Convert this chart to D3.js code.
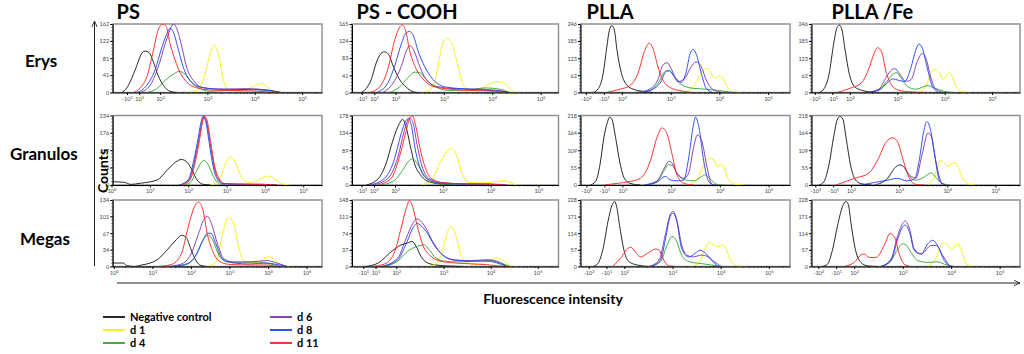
<!DOCTYPE html>
<html>
<head>
<meta charset="utf-8">
<script src="https://cdn.jsdelivr.net/npm/d3@7"></script>
<style>
  body { margin: 0; background: #fff; }
  svg { display: block; }
  text { font-family: Lato, "Open Sans", sans-serif; }
</style>
</head>
<body>
<div id="chart"></div>
<script>
// ---- data ----
const columns = ["PS", "PS - COOH", "PLLA", "PLLA /Fe"];
const rows = ["Erys", "Granulos", "Megas"];
const seriesKeys = ["neg", "d1", "d4", "d6", "d8", "d11"];
const seriesNames = ["Negative control", "d 1", "d 4", "d 6", "d 8", "d 11"];

// x in display decades (10^k at k), y in counts
const erysPS = {
  neg: [[1.19,0],[1.30,11],[1.40,33],[1.51,64],[1.61,92],[1.68,98],[1.77,94],[1.86,72],[1.96,40],[2.07,17],[2.21,3],[2.35,0]],
  d1: [[2.56,0],[2.78,6],[2.95,44],[3.06,92],[3.14,112],[3.23,92],[3.34,29],[3.48,3],[3.76,3],[3.97,14],[4.15,21],[4.29,11],[4.43,2],[4.57,0]],
  d4: [[1.72,0],[1.93,9],[2.11,29],[2.28,43],[2.41,50],[2.53,43],[2.67,24],[2.85,9],[3.06,3],[3.48,6],[3.90,8],[4.26,5],[4.54,0]],
  d6: [[1.58,0],[1.79,17],[1.96,60],[2.11,116],[2.21,148],[2.28,162],[2.35,152],[2.46,108],[2.56,60],[2.70,29],[2.92,11],[3.34,8],[3.83,9],[4.26,6],[4.57,0]],
  d8: [[1.51,0],[1.72,17],[1.89,52],[2.04,107],[2.16,143],[2.21,152],[2.28,143],[2.39,100],[2.49,60],[2.63,28],[2.85,13],[3.20,8],[3.69,7],[4.18,6],[4.54,0]],
  d11: [[1.44,0],[1.58,11],[1.72,37],[1.86,100],[1.96,148],[2.06,162],[2.13,156],[2.21,116],[2.32,76],[2.42,48],[2.56,25],[2.78,11],[3.06,6],[3.48,5],[4.04,3],[4.47,0]]
};
const erysCOOH = {
  neg: [[1.29,0],[1.39,9],[1.50,32],[1.60,71],[1.70,94],[1.77,98],[1.86,91],[1.94,67],[2.08,32],[2.22,13],[2.36,2],[2.45,0]],
  d1: [[2.57,0],[2.77,13],[2.88,63],[2.97,117],[3.05,131],[3.15,121],[3.26,79],[3.39,21],[3.53,5],[3.74,8],[3.94,21],[4.12,26],[4.29,19],[4.43,2],[4.50,0]],
  d4: [[1.88,0],[2.08,13],[2.26,36],[2.39,49],[2.50,48],[2.63,32],[2.84,13],[3.12,5],[3.53,7],[3.88,11],[4.15,8],[4.36,0]],
  d6: [[1.74,0],[1.94,21],[2.12,63],[2.23,102],[2.30,113],[2.39,98],[2.50,63],[2.63,32],[2.84,15],[3.26,9],[3.74,8],[4.22,3],[4.30,0]],
  d8: [[1.60,0],[1.81,17],[1.98,63],[2.12,117],[2.22,144],[2.29,147],[2.37,137],[2.46,102],[2.60,63],[2.77,32],[3.05,13],[3.53,8],[3.94,5],[4.29,2],[4.35,0]],
  d11: [[1.46,0],[1.67,13],[1.84,56],[1.98,125],[2.08,156],[2.14,163],[2.21,148],[2.29,102],[2.43,56],[2.57,32],[2.77,15],[3.12,8],[3.53,5],[4.08,3],[4.20,0]]
};
const erysPLLA = {
  neg: [[1.41,0],[1.52,15],[1.61,63],[1.69,163],[1.74,222],[1.79,240],[1.84,228],[1.90,151],[1.99,69],[2.10,27],[2.23,12],[2.44,4],[2.64,0]],
  d1: [[3.25,0],[3.46,21],[3.59,57],[3.73,86],[3.80,80],[3.90,51],[3.99,59],[4.05,57],[4.14,27],[4.27,4],[4.48,0]],
  d4: [[2.30,0],[2.57,7],[2.74,33],[2.88,75],[2.95,80],[3.05,63],[3.18,33],[3.46,15],[3.73,12],[4.00,7],[4.27,0]],
  d6: [[2.30,0],[2.57,12],[2.74,47],[2.84,98],[2.93,107],[3.01,86],[3.15,39],[3.29,51],[3.42,92],[3.52,110],[3.63,92],[3.73,45],[3.86,12],[4.07,0]],
  d8: [[2.37,0],[2.64,12],[2.78,33],[2.91,75],[2.98,78],[3.08,57],[3.22,36],[3.32,75],[3.40,140],[3.46,155],[3.52,140],[3.63,69],[3.73,15],[3.86,0]],
  d11: [[1.69,0],[1.96,12],[2.16,24],[2.33,69],[2.47,151],[2.56,177],[2.64,157],[2.74,92],[2.84,45],[2.98,19],[3.18,7],[3.46,0]]
};
const erysFe = {
  neg: [[1.35,0],[1.46,15],[1.56,65],[1.66,177],[1.73,234],[1.78,242],[1.83,227],[1.90,152],[1.99,65],[2.10,21],[2.27,7],[2.54,0]],
  d1: [[3.43,0],[3.60,21],[3.70,65],[3.79,84],[3.87,77],[3.97,46],[4.09,71],[4.14,65],[4.24,21],[4.38,2],[4.52,0]],
  d4: [[2.34,0],[2.61,9],[2.78,40],[2.92,67],[2.99,71],[3.09,50],[3.22,21],[3.39,12],[3.56,21],[3.63,25],[3.77,17],[3.97,5],[4.18,0]],
  d6: [[2.34,0],[2.61,12],[2.78,59],[2.88,81],[2.95,86],[3.03,71],[3.19,40],[3.29,46],[3.43,115],[3.53,140],[3.62,115],[3.70,59],[3.80,15],[3.97,0]],
  d8: [[2.41,0],[2.65,12],[2.82,40],[2.92,49],[3.02,44],[3.16,40],[3.29,90],[3.39,152],[3.46,174],[3.53,159],[3.63,90],[3.73,27],[3.87,0]],
  d11: [[1.73,0],[2.00,15],[2.24,34],[2.41,90],[2.51,140],[2.58,161],[2.67,146],[2.76,77],[2.88,27],[3.02,9],[3.29,2],[3.63,0]]
};
const granPS = {
  neg: [[0.03,11],[0.33,9],[0.50,2],[0.76,6],[1.19,17],[1.45,50],[1.67,77],[1.82,86],[1.97,77],[2.10,50],[2.23,17],[2.40,2],[2.58,0]],
  d1: [[2.58,0],[2.79,13],[2.92,55],[3.05,91],[3.11,94],[3.23,77],[3.36,33],[3.53,9],[3.79,13],[4.01,28],[4.13,30],[4.26,20],[4.44,4],[4.65,0]],
  d4: [[1.89,0],[2.06,9],[2.23,50],[2.36,79],[2.42,83],[2.53,66],[2.66,28],[2.79,6],[2.92,0]],
  d6: [[1.78,0],[2.02,17],[2.16,77],[2.28,155],[2.36,212],[2.41,230],[2.48,212],[2.57,143],[2.67,66],[2.80,17],[2.93,4],[3.36,3],[3.96,2],[4.31,0]],
  d8: [[1.76,0],[2.00,17],[2.14,80],[2.26,158],[2.34,215],[2.39,232],[2.46,212],[2.55,140],[2.65,62],[2.78,15],[2.92,4],[3.36,2],[3.96,2],[4.31,0]],
  d11: [[1.82,0],[2.04,15],[2.18,75],[2.30,155],[2.38,215],[2.42,232],[2.49,218],[2.58,150],[2.68,70],[2.81,20],[2.94,5],[3.36,3],[3.96,2],[4.31,0]]
};
const granCOOH = {
  neg: [[1.40,0],[1.64,15],[1.81,54],[1.95,112],[2.09,157],[2.16,168],[2.23,149],[2.32,100],[2.41,54],[2.54,25],[2.74,7],[3.02,2],[3.20,0]],
  d1: [[2.54,0],[2.74,9],[2.92,50],[3.09,87],[3.19,94],[3.30,71],[3.40,30],[3.54,7],[3.78,5],[4.06,8],[4.26,11],[4.40,7],[4.54,0]],
  d4: [[1.71,0],[1.99,12],[2.16,38],[2.30,63],[2.37,67],[2.47,54],[2.61,25],[2.78,7],[3.02,2],[3.57,2],[4.12,2],[4.33,0]],
  d6: [[1.54,0],[1.85,17],[2.06,71],[2.19,137],[2.30,171],[2.37,162],[2.46,104],[2.57,46],[2.71,17],[2.95,7],[3.43,3],[3.99,2],[4.33,0]],
  d8: [[1.47,0],[1.78,17],[1.99,67],[2.12,128],[2.23,165],[2.28,171],[2.34,153],[2.43,87],[2.54,38],[2.68,15],[2.95,5],[3.43,2],[3.99,2],[4.33,0]],
  d11: [[1.64,0],[1.92,17],[2.09,71],[2.23,137],[2.32,174],[2.37,176],[2.43,153],[2.52,96],[2.64,42],[2.78,15],[3.02,5],[3.43,3],[3.99,2],[4.33,0]]
};
const granPLLA = {
  neg: [[1.34,0],[1.45,11],[1.54,64],[1.62,149],[1.69,196],[1.74,213],[1.79,204],[1.86,149],[1.95,69],[2.04,21],[2.16,5],[2.37,0]],
  d1: [[3.33,0],[3.53,16],[3.67,64],[3.77,83],[3.87,80],[3.95,58],[4.02,64],[4.08,58],[4.18,16],[4.32,2],[4.49,0]],
  d4: [[2.44,0],[2.71,11],[2.85,43],[2.95,64],[3.02,62],[3.12,37],[3.29,16],[3.46,13],[3.63,27],[3.70,32],[3.80,19],[3.94,2],[4.08,0]],
  d6: [[2.44,0],[2.71,13],[2.86,53],[2.95,74],[3.02,69],[3.12,37],[3.26,21],[3.36,37],[3.46,117],[3.54,157],[3.63,138],[3.74,53],[3.84,2],[3.94,0]],
  d8: [[2.51,0],[2.71,9],[2.88,27],[2.98,16],[3.12,13],[3.26,16],[3.36,85],[3.45,181],[3.50,213],[3.57,181],[3.67,74],[3.77,11],[3.87,0]],
  d11: [[1.62,0],[1.89,5],[2.16,11],[2.37,21],[2.57,74],[2.71,149],[2.81,179],[2.92,159],[3.02,96],[3.12,32],[3.26,5],[3.46,0]]
};
const granFe = {
  neg: [[1.34,0],[1.44,11],[1.55,69],[1.64,151],[1.72,207],[1.77,215],[1.83,207],[1.90,146],[1.99,63],[2.08,19],[2.21,4],[2.42,0]],
  d1: [[3.60,0],[3.74,30],[3.81,63],[3.86,77],[3.94,69],[4.01,58],[4.12,69],[4.17,69],[4.22,58],[4.33,19],[4.47,2],[4.57,0]],
  d4: [[2.49,0],[2.76,19],[2.90,52],[3.01,63],[3.08,60],[3.18,35],[3.32,15],[3.49,22],[3.67,38],[3.77,22],[3.91,4],[4.05,0]],
  d6: [[2.49,0],[2.76,22],[2.90,52],[3.01,63],[3.11,55],[3.22,30],[3.35,22],[3.47,91],[3.60,163],[3.67,152],[3.77,69],[3.88,8],[3.98,0]],
  d8: [[2.21,0],[2.49,8],[2.76,15],[2.97,21],[3.15,13],[3.32,19],[3.42,80],[3.51,168],[3.58,199],[3.65,174],[3.74,91],[3.84,13],[3.94,0]],
  d11: [[1.69,0],[1.93,13],[2.14,24],[2.35,35],[2.56,80],[2.73,135],[2.87,148],[2.97,135],[3.08,80],[3.22,19],[3.35,2],[3.53,0]]
};
const megaPS = {
  neg: [[-0.03,7],[0.25,7],[0.33,2],[0.55,0],[0.72,3],[0.85,5],[1.15,15],[1.40,35],[1.62,54],[1.76,63],[1.88,58],[2.00,35],[2.13,12],[2.26,2],[2.43,0]],
  d1: [[2.43,0],[2.65,9],[2.82,64],[2.95,97],[3.01,97],[3.12,84],[3.24,38],[3.37,12],[3.63,7],[3.89,15],[4.02,20],[4.14,15],[4.32,4],[4.57,0]],
  d4: [[1.58,0],[1.92,5],[2.17,28],[2.35,58],[2.45,63],[2.56,54],[2.73,22],[2.95,9],[3.29,9],[3.72,9],[4.06,5],[4.32,0]],
  d6: [[1.40,0],[1.75,5],[2.00,25],[2.22,71],[2.35,97],[2.43,101],[2.53,87],[2.69,45],[2.86,15],[3.12,9],[3.54,9],[3.97,12],[4.23,7],[4.49,0]],
  d8: [[1.49,0],[1.83,4],[2.09,18],[2.30,51],[2.43,67],[2.52,67],[2.65,45],[2.82,15],[3.12,7],[3.54,5],[3.97,7],[4.23,4],[4.49,0]],
  d11: [[1.15,0],[1.49,4],[1.75,25],[1.92,77],[2.09,120],[2.19,130],[2.30,117],[2.43,64],[2.60,25],[2.77,9],[3.03,4],[3.54,3],[3.97,3],[4.23,0]]
};
const megaCOOH = {
  neg: [[1.34,0],[1.62,8],[1.86,30],[2.10,48],[2.26,53],[2.33,56],[2.42,45],[2.52,23],[2.66,8],[2.87,3],[3.15,1],[3.43,0]],
  d1: [[2.66,0],[2.87,8],[3.01,48],[3.12,85],[3.17,89],[3.26,70],[3.36,30],[3.50,8],[3.71,4],[3.99,15],[4.13,19],[4.27,13],[4.44,1],[4.55,0]],
  d4: [[1.76,0],[2.03,12],[2.24,34],[2.45,45],[2.59,48],[2.70,37],[2.84,19],[3.01,12],[3.29,10],[3.64,12],[3.99,13],[4.20,8],[4.41,0]],
  d6: [[1.69,0],[2.03,19],[2.21,63],[2.35,96],[2.44,106],[2.52,101],[2.63,85],[2.77,56],[2.94,30],[3.22,15],[3.57,13],[3.92,15],[4.13,12],[4.34,0]],
  d8: [[1.69,0],[2.03,15],[2.23,56],[2.37,89],[2.44,96],[2.52,91],[2.66,74],[2.80,48],[2.98,26],[3.22,14],[3.57,12],[3.92,12],[4.13,8],[4.34,0]],
  d11: [[1.48,0],[1.76,6],[1.97,34],[2.10,85],[2.21,129],[2.28,147],[2.35,132],[2.44,92],[2.56,48],[2.73,23],[2.94,12],[3.22,8],[3.57,6],[3.92,4],[4.20,1],[4.41,0]]
};
const megaPLLA = {
  neg: [[1.35,0],[1.45,10],[1.56,62],[1.66,154],[1.75,212],[1.80,223],[1.84,206],[1.91,131],[2.00,51],[2.10,16],[2.27,5],[2.51,0]],
  d1: [[3.40,0],[3.57,16],[3.68,62],[3.77,82],[3.86,74],[3.94,68],[4.04,74],[4.11,62],[4.22,16],[4.35,2],[4.52,0]],
  d4: [[2.51,0],[2.75,16],[2.89,74],[2.99,103],[3.09,85],[3.19,39],[3.36,16],[3.60,10],[3.81,5],[4.01,0]],
  d6: [[2.51,0],[2.72,22],[2.85,108],[2.95,177],[3.01,189],[3.09,160],[3.19,74],[3.30,39],[3.43,33],[3.60,39],[3.74,33],[3.87,16],[4.01,0]],
  d8: [[2.55,0],[2.75,22],[2.87,108],[2.95,171],[3.01,183],[3.09,154],[3.19,62],[3.33,33],[3.47,45],[3.57,56],[3.67,48],[3.81,22],[3.94,0]],
  d11: [[1.76,0],[1.97,39],[2.07,62],[2.14,66],[2.20,56],[2.34,33],[2.48,45],[2.65,60],[2.72,56],[2.82,22],[2.92,2],[3.06,0]]
};
const megaFe = {
  neg: [[1.34,0],[1.45,8],[1.55,55],[1.66,142],[1.76,206],[1.83,223],[1.88,212],[1.94,142],[2.03,55],[2.14,14],[2.28,2],[2.48,0]],
  d1: [[3.52,0],[3.69,31],[3.79,72],[3.86,81],[3.94,72],[4.01,55],[4.10,74],[4.14,78],[4.21,55],[4.31,8],[4.45,0]],
  d4: [[2.55,0],[2.76,20],[2.90,60],[3.00,78],[3.07,74],[3.17,49],[3.31,20],[3.52,14],[3.72,16],[3.86,8],[4.07,0]],
  d6: [[2.55,0],[2.76,26],[2.90,107],[3.00,148],[3.05,156],[3.14,130],[3.24,60],[3.38,43],[3.59,72],[3.69,72],[3.83,37],[3.97,0]],
  d8: [[2.55,0],[2.76,20],[2.90,95],[3.00,136],[3.05,142],[3.14,119],[3.24,55],[3.38,43],[3.52,78],[3.62,90],[3.72,72],[3.86,20],[4.00,0]],
  d11: [[1.79,0],[2.00,14],[2.14,40],[2.21,43],[2.31,31],[2.45,31],[2.62,72],[2.74,113],[2.83,102],[2.93,43],[3.03,8],[3.17,0]]
};
const panelData = [
  [erysPS, erysCOOH, erysPLLA, erysFe],
  [granPS, granCOOH, granPLLA, granFe],
  [megaPS, megaCOOH, megaPLLA, megaFe]
];

// y tick labels (counts), last one is the top of the panel
const yTickLabels = [
  [[0,41,81,122,162], [0,41,83,124,165], [0,62,123,185,246], [0,62,123,185,246]],
  [[0,59,117,176,234], [0,45,89,134,178], [0,55,109,164,218], [0,55,109,164,218]],
  [[0,34,67,101,134], [0,37,74,111,148], [0,57,114,171,228], [0,57,114,171,228]]
];

// x tick labels: [position in decades, label]
const xTicksLog = [[0,"10^0"],[1,"10^1"],[2,"10^2"],[3,"10^3"],[4,"10^4"],[5,"10^5"]];
const xTicksPS = [[1.30,"-10^1"],[1.56,"10^1"],[2,"10^2"],[3,"10^3"],[4,"10^4"],[5,"10^5"]];
const xTicksPLLA = [[1.26,"-10^2"],[1.63,"-10^1"],[2,"10^2"],[3,"10^3"],[4,"10^4"],[5,"10^5"]];
const xTicks = [
  [xTicksPS, xTicksPS, xTicksPLLA, xTicksPLLA],
  [xTicksLog, xTicksPS, xTicksPLLA, xTicksPLLA],
  [xTicksLog, xTicksPS, xTicksPLLA, xTicksPLLA]
];
const xDomains = [
  [[1.00,5.42], [1.10,5.37], [1.15,5.45], [1.19,5.59]],
  [[0.03,5.49], [1.10,5.42], [1.14,5.44], [1.18,5.51]],
  [[-0.03,5.40], [1.06,5.44], [1.09,5.44], [1.12,5.42]]
];

// ---- layout ----
const W = 1024, H = 354;
const colX = [[112.7, 322], [352, 558.5], [580.5, 790], [811.5, 1020]];
const rowY = [[24, 92.5], [115.5, 185], [200, 266.5]];
const color = { neg: "#111111", d1: "#f4f400", d4: "#2ea42e", d6: "#7a32a8", d8: "#1f3ff0", d11: "#ff1f1f" };

const svg = d3.select("#chart").append("svg")
  .attr("width", W)
  .attr("height", H);

const defs = svg.append("defs");
defs.append("marker")
  .attr("id", "arrow")
  .attr("viewBox", "0 0 10 10")
  .attr("refX", 9).attr("refY", 5)
  .attr("markerWidth", 7).attr("markerHeight", 7)
  .attr("orient", "auto-start-reverse")
  .append("path")
  .attr("d", "M0,1 L9,5 L0,9")
  .attr("fill", "none")
  .attr("stroke", "#222")
  .attr("stroke-width", 1.2);

function addLabel(sel, label, fs) {
  const parts = label.split("^");
  sel.text(null);
  sel.append("tspan").text(parts[0]);
  sel.append("tspan").attr("dy", -2).attr("font-size", fs * 0.75).text(parts[1]);
}

rows.forEach((rowName, r) => {
  columns.forEach((colName, c) => {
    const [x0, x1] = colX[c];
    const [y0, y1] = rowY[r];
    const yt = yTickLabels[r][c];
    const yMax = yt[yt.length - 1];
    const x = d3.scaleLinear().domain(xDomains[r][c]).range([x0, x1]);
    const y = d3.scaleLinear().domain([0, yMax]).range([y1, y0]);
    const g = svg.append("g");

    const clipId = `clip-${r}-${c}`;
    defs.append("clipPath").attr("id", clipId)
      .append("rect")
      .attr("x", x0).attr("y", y0 - 0.5)
      .attr("width", x1 - x0).attr("height", y1 - y0 + 0.5);

    // frame
    g.append("rect")
      .attr("x", x0).attr("y", y0)
      .attr("width", x1 - x0).attr("height", y1 - y0)
      .attr("fill", "none")
      .attr("stroke", "#8c8c8c")
      .attr("stroke-width", 1.4);

    // histograms
    const line = d3.line()
      .x(d => x(d[0]))
      .y(d => y(d[1]))
      .curve(d3.curveMonotoneX);
    const cg = g.append("g").attr("clip-path", `url(#${clipId})`);
    seriesKeys.forEach(k => {
      cg.append("path")
        .datum(panelData[r][c][k])
        .attr("d", line)
        .attr("fill", "none")
        .attr("stroke", color[k])
        .attr("stroke-width", 0.9);
    });

    // y axis with minor ticks
    const ya = g.append("g")
      .attr("transform", `translate(${x0},0)`)
      .call(d3.axisLeft(y).tickValues(yt).tickSize(2.5).tickSizeOuter(0).tickPadding(1).tickFormat(d3.format("d")));
    ya.selectAll("text").attr("font-size", 5.5).attr("fill", "#444");
    ya.select(".domain").attr("stroke", "#000").attr("stroke-width", 1);
    ya.selectAll(".minor")
      .data(d3.range(0, yMax, yMax / 20))
      .enter().append("line")
      .attr("x1", -1.5).attr("x2", 0)
      .attr("y1", d => y(d)).attr("y2", d => y(d))
      .attr("stroke", "#000").attr("stroke-width", 0.5);

    // x axis
    const ticks = xTicks[r][c];
    const xa = g.append("g")
      .attr("transform", `translate(0,${y1})`)
      .call(d3.axisBottom(x).tickValues(ticks.map(t => t[0])).tickSize(2.5).tickSizeOuter(0).tickPadding(2));
    xa.select(".domain").attr("stroke", "#000").attr("stroke-width", 1);
    xa.selectAll(".tick text")
      .attr("font-size", 5.5)
      .attr("fill", "#444")
      .each(function (d, i) { addLabel(d3.select(this), ticks[i][1], 5.5); });
    const dom = x.domain();
    const firstDec = c === 0 && r > 0 ? 0 : 2;
    const minors = [];
    for (let k = firstDec; k < 6; k++) {
      for (let m = 2; m <= 9; m++) {
        const p = k + Math.log10(m);
        if (p > dom[0] && p < dom[1]) minors.push(p);
      }
    }
    xa.selectAll(".minor")
      .data(minors)
      .enter().append("line")
      .attr("x1", d => x(d)).attr("x2", d => x(d))
      .attr("y1", 0).attr("y2", 1.5)
      .attr("stroke", "#000").attr("stroke-width", 0.5);
  });
});

// column titles
const titleX = [116.5, 356.5, 586.5, 831.5];
svg.selectAll(".coltitle")
  .data(columns)
  .enter().append("text")
  .attr("x", (d, i) => titleX[i])
  .attr("y", 18.5)
  .attr("font-size", 20)
  .attr("font-weight", "bold")
  .text(d => d);

// row titles
const rowTitleX = [25, 10, 20];
const rowTitleY = [67, 160, 245];
svg.selectAll(".rowtitle")
  .data(rows)
  .enter().append("text")
  .attr("x", (d, i) => rowTitleX[i])
  .attr("y", (d, i) => rowTitleY[i])
  .attr("font-size", 17)
  .attr("font-weight", "bold")
  .text(d => d);

// Counts axis arrow
svg.append("line")
  .attr("x1", 94.5).attr("y1", 266)
  .attr("x2", 94.5).attr("y2", 21)
  .attr("stroke", "#222").attr("stroke-width", 1)
  .attr("marker-end", "url(#arrow)");
svg.append("text")
  .attr("transform", "translate(108,171) rotate(-90)")
  .attr("text-anchor", "middle")
  .attr("font-size", 14)
  .attr("font-weight", "bold")
  .text("Counts");

// Fluorescence axis arrow
svg.append("line")
  .attr("x1", 117).attr("y1", 283)
  .attr("x2", 1020).attr("y2", 283)
  .attr("stroke", "#222").attr("stroke-width", 1)
  .attr("marker-end", "url(#arrow)");
svg.append("text")
  .attr("x", 553).attr("y", 304)
  .attr("text-anchor", "middle")
  .attr("font-size", 14)
  .attr("font-weight", "bold")
  .text("Fluorescence intensity");

// legend
const legendX = [103, 270];
const legendY = [317, 330, 343];
const legend = svg.append("g");
seriesKeys.forEach((k, i) => {
  const lx = legendX[Math.floor(i / 3)];
  const ly = legendY[i % 3];
  legend.append("line")
    .attr("x1", lx).attr("x2", lx + 22)
    .attr("y1", ly).attr("y2", ly)
    .attr("stroke", color[k]).attr("stroke-width", 1.8);
  legend.append("text")
    .attr("x", lx + 27).attr("y", ly + 4)
    .attr("font-size", 11)
    .attr("font-weight", "bold")
    .text(seriesNames[i]);
});
</script>
</body>
</html>
